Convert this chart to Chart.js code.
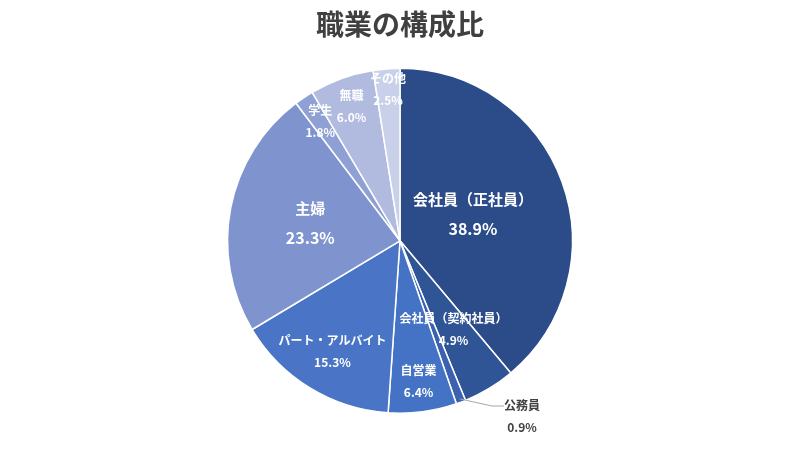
<!DOCTYPE html>
<html>
<head>
<meta charset="utf-8">
<script src="https://cdn.jsdelivr.net/npm/chart.js@4"></script>
<style>
  html, body { margin: 0; background: #fff; }
  #wrap { width: 800px; height: 450px; }
</style>
</head>
<body>
<div id="wrap"><canvas id="chart"></canvas></div>
<script>
const categories = ['会社員（正社員）', '会社員（契約社員）', '公務員', '自営業', 'パート・アルバイト', '主婦', '学生', '無職', 'その他'];
const shares = [38.9, 4.9, 0.9, 6.4, 15.3, 23.3, 1.8, 6.0, 2.5];
const colours = ['#2B4C88', '#2F5597', '#3A62B0', '#4472C4', '#4A74C6', '#7F93CF', '#8FA1D4', '#B0BBDF', '#C9D0EA'];
// where each label sits, as a fraction of the radius
const labelRadius = [0.45, 0.6, 1.2, 0.82, 0.75, 0.53, 0.83, 0.83, 0.88];

const sliceLabels = {
  id: 'sliceLabels',
  afterDatasetsDraw(chart) {
    const ctx = chart.ctx;
    const arcs = chart.getDatasetMeta(0).data;
    ctx.save();
    ctx.textAlign = 'center';
    ctx.textBaseline = 'middle';
    arcs.forEach((arc, i) => {
      const mid = (arc.startAngle + arc.endAngle) / 2;
      const r = arc.outerRadius * labelRadius[i];
      let x = arc.x + Math.cos(mid) * r;
      let y = arc.y + Math.sin(mid) * r;
      const big = i === 0 || i === 5;
      const gap = big ? 15 : 11;
      if (i === 2) {
        // outside label with leader line
        const ex = arc.x + Math.cos(mid) * arc.outerRadius * 0.98;
        const ey = arc.y + Math.sin(mid) * arc.outerRadius * 0.98;
        x = 522; y = 416;
        ctx.strokeStyle = '#A6A6A6';
        ctx.lineWidth = 1;
        ctx.beginPath();
        ctx.moveTo(ex, ey);
        ctx.lineTo(x - 30, y - 10);
        ctx.lineTo(x - 18, y - 10);
        ctx.stroke();
        ctx.fillStyle = '#404040';
      } else {
        ctx.fillStyle = '#fff';
      }
      ctx.font = `bold ${big ? 15 : 12}px "Noto Sans CJK JP", sans-serif`;
      ctx.fillText(categories[i], x, y - gap);
      ctx.font = `bold ${big ? 16 : 12}px "Noto Sans CJK JP", sans-serif`;
      ctx.fillText(shares[i].toFixed(1) + '%', x, y + gap);
    });
    ctx.restore();
  }
};

new Chart(document.getElementById('chart'), {
  type: 'pie',
  data: {
    labels: categories,
    datasets: [{
      data: shares,
      backgroundColor: colours,
      borderColor: '#fff',
      borderWidth: 1.5,
    }],
  },
  options: {
    responsive: true,
    maintainAspectRatio: false,
    animation: false,
    layout: { padding: { top: 0, bottom: 36 } },
    plugins: {
      legend: { display: false },
      tooltip: { enabled: false },
      title: {
        display: true,
        text: '職業の構成比',
        color: '#404040',
        font: { size: 28, weight: 'bold', family: '"Noto Sans CJK JP", sans-serif' },
        padding: { top: 8, bottom: 26 },
      },
    },
  },
  plugins: [sliceLabels],
});
</script>
</body>
</html>
